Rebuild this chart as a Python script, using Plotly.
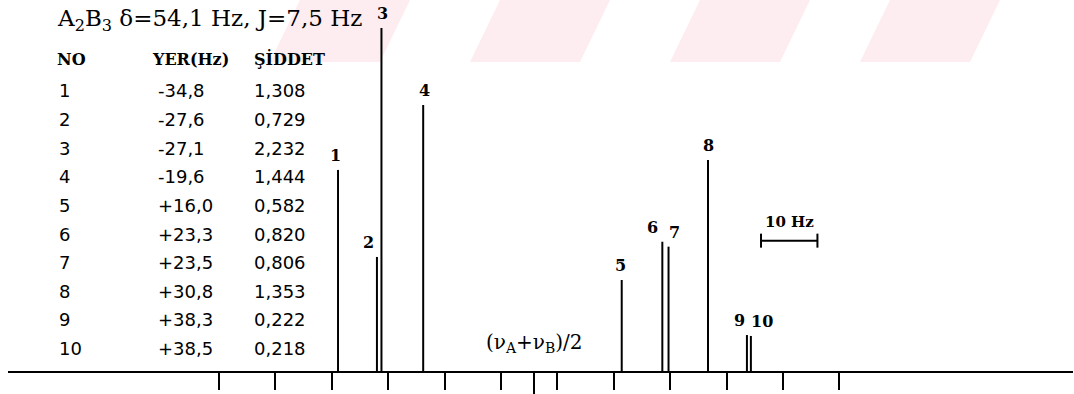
import plotly.graph_objects as go

# ---------------- data ----------------
peak_no = ["1", "2", "3", "4", "5", "6", "7", "8", "9", "10"]
yer_hz = ["-34,8", "-27,6", "-27,1", "-19,6", "+16,0", "+23,3", "+23,5", "+30,8", "+38,3", "+38,5"]
siddet = ["1,308", "0,729", "2,232", "1,444", "0,582", "0,820", "0,806", "1,353", "0,222", "0,218"]
# stick positions (Hz) and stick heights as drawn in the picture
stick_hz = [-34.8, -27.9, -27.1, -19.7, 15.5, 22.7, 23.8, 30.8, 37.7, 38.4]
stick_h = [1.308, 0.742, 2.232, 1.731, 0.592, 0.841, 0.809, 1.373, 0.234, 0.228]
tick_hz = [-55.9, -45.9, -35.9, -25.9, -15.9, -5.9, 4.1, 14.1, 24.1, 34.1, 44.1, 54.1]
center_hz = [0.0]
scale_bar_hz = [40.2, 50.2]
scale_bar_y = [0.848, 0.848]
title_text = "A<sub>2</sub>B<sub>3</sub> δ=54,1 Hz, J=7,5 Hz"
header = ["NO", "YER(Hz)", "ŞİDDET"]
center_label = "(ν<sub>A</sub>+ν<sub>B</sub>)/2"
scale_label = "10 Hz"

# ---------------- layout geometry (pixels) ----------------
L, W, H = 8, 1065, 371
def pxx(x):
    return (x - L) / W
def pxy(y):
    return (H - y) / H

label_dx = [-3, -8, 1, 1, -1, -10, 6, 0, -7, 11]
row_y0, row_dy = 91, 28.6
col_x = [57, 156, 252]
head_x = [55, 150, 252]

serif = "DejaVu Serif"
numfont = dict(family="DejaVu Sans", size=18, color="black")

fig = go.Figure()

# sticks
xs, ys = [], []
for p, h in zip(stick_hz, stick_h):
    xs += [p, p, None]
    ys += [0, h, None]
fig.add_trace(go.Scatter(x=xs, y=ys, mode="lines",
                         line=dict(color="black", width=2),
                         hoverinfo="skip", showlegend=False))

# 10 Hz scale bar
fig.add_trace(go.Scatter(x=scale_bar_hz, y=scale_bar_y, mode="lines+markers",
                         line=dict(color="black", width=2),
                         marker=dict(symbol="line-ns", size=10,
                                     line=dict(color="black", width=2)),
                         hoverinfo="skip", showlegend=False))

# invisible trace to activate xaxis2 (long centre tick)
fig.add_trace(go.Scatter(x=center_hz, y=[0], xaxis="x2", mode="markers",
                         marker=dict(opacity=0), hoverinfo="skip", showlegend=False))

# faint pink watermark bands at the top (background decoration)
shapes = []
for x0 in [300, 500, 700, 890]:
    x_top0, x_top1 = x0, x0 + 110
    x_bot0, x_bot1 = x0 - 30, x0 + 80
    path = "M %f %f L %f %f L %f %f L %f %f Z" % (
        pxx(x_top0), pxy(0), pxx(x_top1), pxy(0),
        pxx(x_bot1), pxy(62), pxx(x_bot0), pxy(62))
    shapes.append(dict(type="path", xref="paper", yref="paper", path=path,
                       fillcolor="#fdedf0", line=dict(width=0), layer="below"))

ann = []
# peak labels
for i, (p, h) in enumerate(zip(stick_hz, stick_h)):
    ann.append(dict(x=p, y=h, xref="x", yref="y", text="<b>%s</b>" % peak_no[i],
                    showarrow=False, yanchor="bottom", xanchor="center",
                    yshift=3, xshift=label_dx[i],
                    font=dict(family=serif, size=16, color="black")))

# title
ann.append(dict(x=pxx(55), y=pxy(20), xref="paper", yref="paper", text=title_text,
                showarrow=False, xanchor="left", yanchor="middle",
                font=dict(family=serif, size=23, color="black")))
# header
for hx, ht in zip(head_x, header):
    ann.append(dict(x=pxx(hx), y=pxy(59), xref="paper", yref="paper", text="<b>%s</b>" % ht,
                    showarrow=False, xanchor="left", yanchor="middle",
                    font=dict(family=serif, size=16, color="black")))
# table rows
for i in range(len(peak_no)):
    yy = row_y0 + row_dy * i
    for cx, txt in zip(col_x, [peak_no[i], yer_hz[i], siddet[i]]):
        ann.append(dict(x=pxx(cx), y=pxy(yy), xref="paper", yref="paper", text=txt,
                        showarrow=False, xanchor="left", yanchor="middle",
                        font=numfont))

# center label
ann.append(dict(x=center_hz[0], y=pxy(343), xref="x", yref="paper", text=center_label,
                showarrow=False, xanchor="center", yanchor="middle",
                font=dict(family=serif, size=20, color="black")))
# scale label
ann.append(dict(x=sum(scale_bar_hz) / 2, y=scale_bar_y[0], xref="x", yref="y",
                text="<b>%s</b>" % scale_label, showarrow=False,
                xanchor="center", yanchor="bottom", yshift=8,
                font=dict(family=serif, size=15, color="black")))

xr = [(L - 534.3) / 5.64, (L + W - 534.3) / 5.64]

fig.update_layout(
    width=1074, height=394,
    margin=dict(l=L, r=1074 - L - W, t=0, b=394 - H),
    paper_bgcolor="white", plot_bgcolor="rgba(0,0,0,0)",
    showlegend=False,
    xaxis=dict(range=xr, showgrid=False, zeroline=False, showline=True,
               linecolor="black", linewidth=2,
               tickmode="array", tickvals=tick_hz, ticks="outside",
               ticklen=17, tickwidth=2, tickcolor="black",
               showticklabels=False, fixedrange=True),
    xaxis2=dict(range=xr, overlaying="x", anchor="y", side="bottom",
                showgrid=False, zeroline=False, showline=False,
                tickmode="array", tickvals=center_hz, ticks="outside",
                ticklen=22, tickwidth=2, tickcolor="black",
                showticklabels=False, fixedrange=True),
    yaxis=dict(range=[0, H / 153.7], visible=False, fixedrange=True),
    shapes=shapes,
    annotations=ann,
)

fig.write_html("out.html")
